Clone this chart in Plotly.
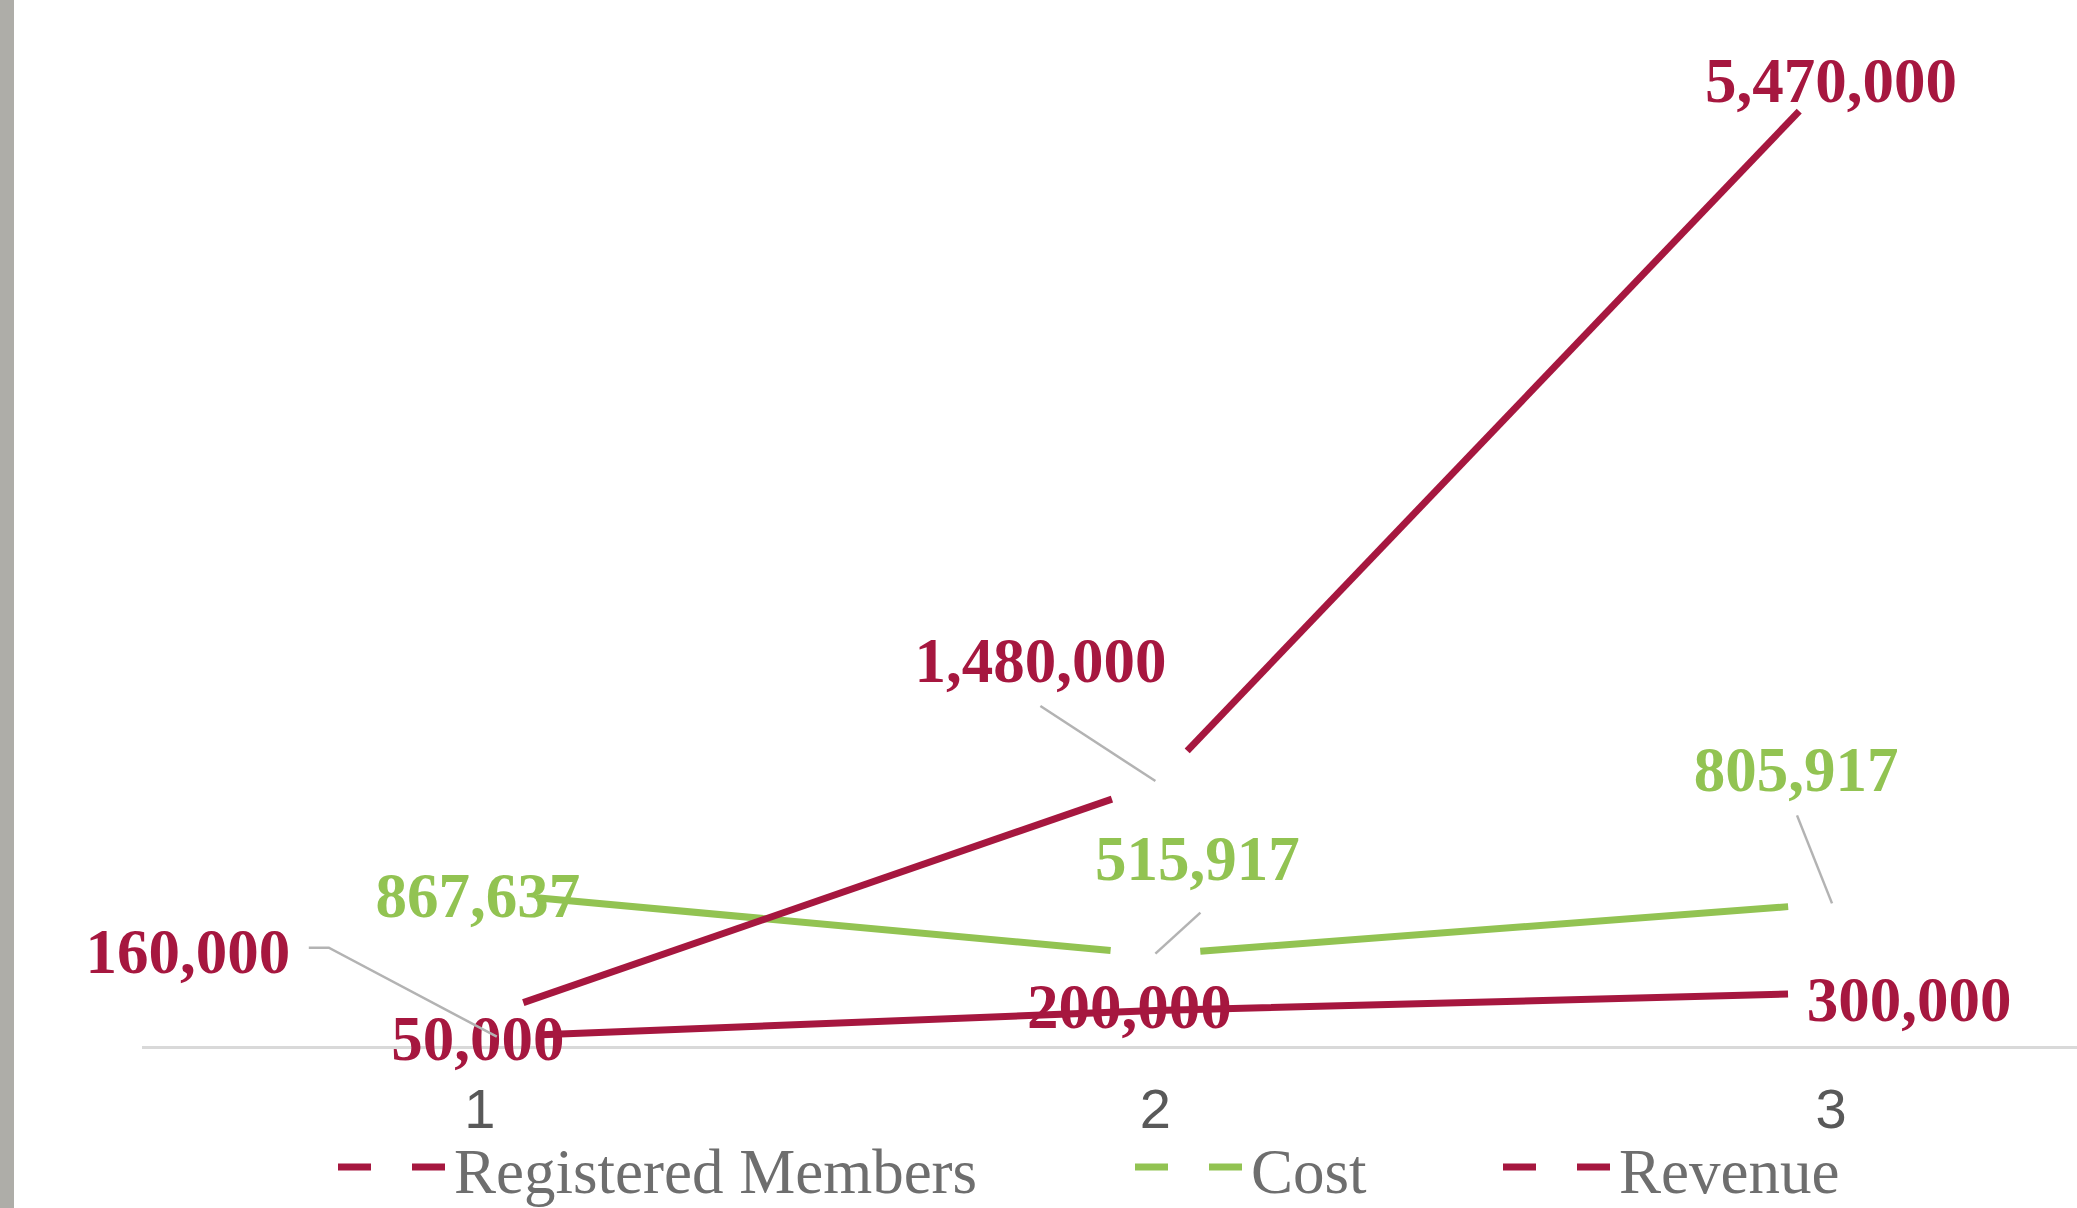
import plotly.graph_objects as go

# ---------------- data ----------------
categories = [1, 2, 3]
tick_labels = ["1", "2", "3"]
series_names = ["Registered Members", "Cost", "Revenue"]
registered_members = [50000, 200000, 300000]
cost = [867637, 515917, 805917]
revenue = [160000, 1480000, 5470000]

# ---------------- layout constants ----------------
W, H = 2077, 1208
ML, MR, MT, MB = 142, 0, 0, 162
PW = W - ML - MR
PH = H - MT - MB
X_RANGE = [0.5, 3.3641]
Y_RANGE = [0, 5.91e6]
SX = PW / (X_RANGE[1] - X_RANGE[0])   # px per x unit
SY = PH / (Y_RANGE[1] - Y_RANGE[0])   # px per y unit

CRIMSON = "#A6173F"
GREEN = "#92C352"
LEADER = "#B3B3B3"
LABEL_FONT = "Liberation Serif, Times New Roman, serif"
LABEL_DY = -4  # small global nudge of labels (px, up positive)

styles = {
    "Registered Members": dict(
        values=registered_members, color=CRIMSON,
        trims=[62, 0, 43],
        label_off=[(-2, -3), (-26, 2), (78, -8)],
        leaders={},
    ),
    "Cost": dict(
        values=cost, color=GREEN,
        trims=[57, 45, 43],
        label_off=[(-2, -5), (42, 94), (-35, 132)],
        leaders={1: [(45, 42), (0, 1)], 2: [(-34, 88), (1, 0)]},
    ),
    "Revenue": dict(
        values=revenue, color=CRIMSON,
        trims=[46, 46, 46],
        label_off=[(-292, 64), (-115, 122), (0, -4)],
        leaders={0: [(-171, 70), (-151, 70), (17, -19)], 1: [(-115, 78), (0, 3)]},
    ),
}


def shift(x, y, dx, dy):
    """Move a data point by a pixel offset (dx right, dy up)."""
    return x + dx / SX, y + dy / SY


def trimmed_path(xs, ys, trims):
    px, py = [], []
    n = len(xs)
    for i in range(n - 1):
        x0, y0, x1, y1 = xs[i], ys[i], xs[i + 1], ys[i + 1]
        dxp = (x1 - x0) * SX
        dyp = (y1 - y0) * SY
        L = (dxp ** 2 + dyp ** 2) ** 0.5
        t0 = trims[i] / L
        t1 = 1 - trims[i + 1] / L
        a = (x0 + (x1 - x0) * t0, y0 + (y1 - y0) * t0)
        b = (x0 + (x1 - x0) * t1, y0 + (y1 - y0) * t1)
        if i == 0 or trims[i] > 0:
            if i > 0:
                px.append(None)
                py.append(None)
            px.append(a[0])
            py.append(a[1])
        px.append(b[0])
        py.append(b[1])
    return px, py


fig = go.Figure()

# data labels (drawn first so that lines pass over them)
for name in series_names:
    st = styles[name]
    lx, ly, lt = [], [], []
    for i, (c, v) in enumerate(zip(categories, st["values"])):
        dx, dy = st["label_off"][i]
        x, y = shift(c, v, dx, dy + LABEL_DY)
        lx.append(x)
        ly.append(y)
        lt.append(f"{v:,}")
    fig.add_trace(go.Scatter(
        x=lx, y=ly, mode="text", text=lt, textposition="middle center",
        textfont=dict(family=LABEL_FONT, size=63, color=st["color"], weight="bold"),
        showlegend=False, hoverinfo="skip", cliponaxis=False,
    ))

# leader lines
for name in series_names:
    st = styles[name]
    for i, pts in st["leaders"].items():
        xs_, ys_ = [], []
        for dx, dy in pts:
            x, y = shift(categories[i], st["values"][i], dx, dy)
            xs_.append(x)
            ys_.append(y)
        fig.add_trace(go.Scatter(
            x=xs_, y=ys_, mode="lines", line=dict(color=LEADER, width=2.5),
            showlegend=False, hoverinfo="skip", cliponaxis=False,
        ))

# series lines
for name in series_names:
    st = styles[name]
    px, py = trimmed_path(categories, st["values"], st["trims"])
    fig.add_trace(go.Scatter(
        x=px, y=py, mode="lines", name=name,
        line=dict(color=st["color"], width=7),
        showlegend=False, connectgaps=False, cliponaxis=False,
    ))

# ---------------- custom legend ----------------
def paper_x(p):
    return (p - ML) / PW


def paper_y(p):
    return (MT + PH - p) / PH


legend_items = [
    ("Registered Members", CRIMSON, 338),
    ("Cost", GREEN, 1135),
    ("Revenue", CRIMSON, 1503),
]
shapes = []
annotations = []
for text, col, x0 in legend_items:
    shapes.append(dict(
        type="line", xref="paper", yref="paper",
        x0=paper_x(x0), x1=paper_x(x0 + 108), y0=paper_y(1167), y1=paper_y(1167),
        line=dict(color=col, width=7, dash="33px,41px"),
    ))
    annotations.append(dict(
        xref="paper", yref="paper", x=paper_x(x0 + 114), y=paper_y(1172),
        xanchor="left", yanchor="middle", showarrow=False, text=text,
        font=dict(family=LABEL_FONT, size=63, color="#6E6E6E"),
    ))

# grey strip at the left edge (photo edge)
shapes.append(dict(
    type="rect", xref="paper", yref="paper",
    x0=paper_x(0), x1=paper_x(14), y0=paper_y(H), y1=paper_y(0),
    fillcolor="#AEADA8", line=dict(width=0), layer="above",
))

fig.update_layout(
    width=W, height=H,
    margin=dict(l=ML, r=MR, t=MT, b=MB, pad=0),
    paper_bgcolor="white", plot_bgcolor="white",
    showlegend=False,
    shapes=shapes, annotations=annotations,
    xaxis=dict(
        range=X_RANGE, tickmode="array", tickvals=categories, ticktext=tick_labels,
        showgrid=False, zeroline=False, showline=True, linecolor="#D9D9D9", linewidth=3,
        ticks="", ticklabelstandoff=12, layer="below traces",
        tickfont=dict(family="Liberation Sans Narrow, Liberation Sans, Arial, sans-serif",
                      size=56, color="#595959"),
        fixedrange=True,
    ),
    yaxis=dict(
        range=Y_RANGE, visible=False, showgrid=False, zeroline=False, fixedrange=True,
    ),
)

fig.write_html(
    "out.html",
    config={"displayModeBar": False},
    post_script="document.body.style.margin='0';document.body.style.overflow='hidden';",
)
